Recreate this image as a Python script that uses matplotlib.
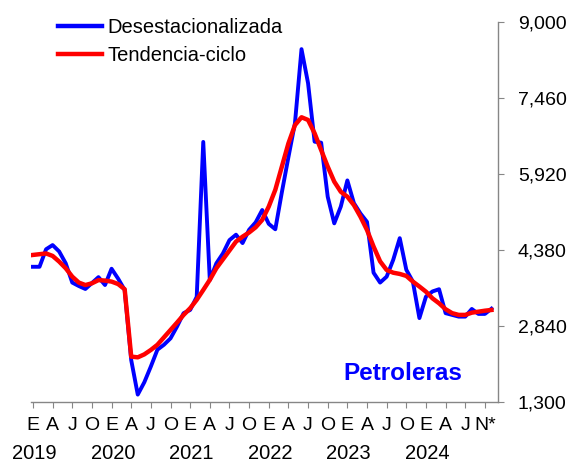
import matplotlib
matplotlib.use("Agg")
import matplotlib.pyplot as plt
import numpy as np

plt.rcParams['font.family'] = ['Liberation Sans', 'DejaVu Sans']

desest = [4040, 4040, 4395, 4480, 4350, 4110, 3720, 3650, 3590, 3710, 3830, 3670,
          4000, 3800, 3570, 2150, 1450, 1700, 2020, 2360, 2460, 2590, 2830, 3100,
          3165, 3430, 6570, 3770, 4110, 4310, 4580, 4690, 4520, 4790, 4940, 5190,
          4910, 4800, 5550, 6260, 6950, 8450, 7760, 6575, 6555, 5460, 4920, 5260,
          5790, 5330, 5120, 4950, 3920, 3720, 3840, 4180, 4620, 3980, 3740, 3000,
          3435, 3540, 3585, 3100, 3065, 3030, 3030, 3185, 3085, 3085, 3190]
tendencia = [4280, 4295, 4310, 4260, 4145, 4010, 3840, 3720, 3670, 3705, 3770, 3760,
             3740, 3690, 3585, 2220, 2205, 2265, 2355, 2460, 2610, 2760, 2910, 3065,
             3200, 3370, 3570, 3775, 4010, 4190, 4370, 4550, 4650, 4735, 4840, 4990,
             5260, 5600, 6070, 6540, 6910, 7070, 7015, 6745, 6405, 6070, 5765, 5560,
             5460, 5290, 5055, 4785, 4450, 4150, 3975, 3920, 3895, 3855, 3740, 3640,
             3535, 3400, 3300, 3180, 3100, 3065, 3065, 3110, 3130, 3150, 3165]
month_labels = ["E", "A", "J", "O"] * 5 + ["E", "A", "J", "N*"]
years = ["2019", "2020", "2021", "2022", "2023", "2024"]
yticks = [1300, 2840, 4380, 5920, 7460, 9000]

x = np.arange(len(desest))

fig = plt.figure(figsize=(5.75, 4.62), dpi=100)
ax = fig.add_axes([31/575, 1-402/462, (498-31)/575, (402-22)/462])

ax.plot(x, desest, color='#0000FF', lw=2.8, label='Desestacionalizada', zorder=2,
        solid_joinstyle='round')
ax.plot(x, tendencia, color='#FF0000', lw=3.2, label='Tendencia-ciclo', zorder=3,
        solid_joinstyle='round')

ax.set_xlim(-0.3, 71.0)
ax.set_ylim(1300, 9000)

axis_col = '#868686'
for s in ['left', 'top']:
    ax.spines[s].set_visible(False)
for s in ['right', 'bottom']:
    ax.spines[s].set_color(axis_col)
    ax.spines[s].set_linewidth(1.0)

ax.yaxis.tick_right()
ax.set_yticks(yticks)
ax.set_yticklabels([f"{v:,}" for v in yticks])
ax.tick_params(axis='y', direction='out', length=4.3, color=axis_col,
               labelsize=14, pad=10)

ticks = list(range(0, 70, 3))
ax.set_xticks(ticks)
ax.set_xticklabels(month_labels)
ax.tick_params(axis='x', direction='out', length=4.0, color=axis_col,
               labelsize=14, pad=7)

for i, yr in enumerate(years):
    ax.text(i * 12 + 0.2, -0.11, yr, transform=ax.get_xaxis_transform(),
            ha='center', va='top', fontsize=14.5)

ax.text(0.797, 0.075, 'Petroleras', transform=ax.transAxes, ha='center',
        va='center', fontsize=17.5, fontweight='bold', color='#0000FF')

leg = ax.legend(loc='upper left', bbox_to_anchor=(58/575, 1-18/462),
                bbox_transform=fig.transFigure, frameon=False, fontsize=14.5,
                handlelength=2.2, handletextpad=0.25, labelspacing=0.46,
                borderaxespad=0, borderpad=0)
for h in leg.get_lines():
    h.set_linewidth(3.2)

fig.savefig('out.png', dpi=100)
